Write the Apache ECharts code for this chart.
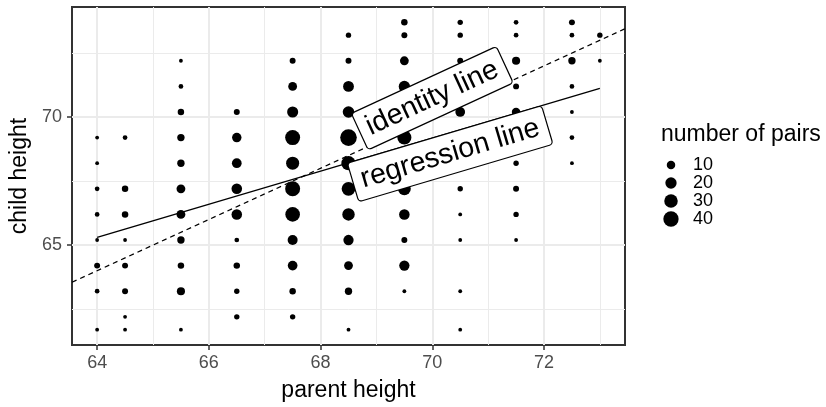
<!DOCTYPE html>
<html><head><meta charset="utf-8">
<script src="https://cdn.jsdelivr.net/npm/echarts@6/dist/echarts.min.js"></script>
<style>html,body{margin:0;padding:0;background:#fff}#c{width:826px;height:407px}</style>
</head><body><div id="c"></div>
<script>
// ---- data (Galton parent/child heights, number of pairs) ----
const parentHeights = [64, 64.5, 65.5, 66.5, 67.5, 68.5, 69.5, 70.5, 71.5, 72.5, 73];
const childHeights  = [61.7, 62.2, 63.2, 64.2, 65.2, 66.2, 67.2, 68.2, 69.2, 70.2, 71.2, 72.2, 73.2, 73.7];
// one row per parent height, columns follow childHeights
const pairCounts = [
  [1,0,2,4,1,2,2,1,1,0,0,0,0,0],
  [1,1,4,4,1,5,5,0,2,0,0,0,0,0],
  [1,0,9,5,7,11,11,7,7,5,2,1,0,0],
  [0,3,3,5,2,17,17,14,13,4,0,0,0,0],
  [0,3,5,14,15,36,38,28,38,19,11,4,0,0],
  [1,0,7,11,16,25,31,34,48,21,18,4,3,0],
  [0,0,1,16,4,17,27,20,33,25,20,11,4,5],
  [1,0,1,0,1,1,3,12,18,14,7,4,3,3],
  [0,0,0,0,1,3,4,3,5,10,4,9,2,2],
  [0,0,0,0,0,0,0,1,2,1,2,7,2,4],
  [0,0,0,0,0,0,0,0,0,0,0,1,3,0]
];
const xTicks = [64, 66, 68, 70, 72];
const xMinorGrid = [65, 67, 69, 71, 73];
const yTicks = [65, 70];
const yMinorGrid = [62.5, 67.5, 72.5];
const legendValues = [10, 20, 30, 40];
const legendTitle = 'number of pairs';
const identityLabel = {text: 'identity line', x: 70.0, y: 70.74, angle: 24.8};
const regressionLabel = {text: 'regression line', x: 70.32, y: 68.57, angle: 16.5};

// ---- derived ----
const points = [];
let minN = Infinity, maxN = 0;
let sw = 0, sx = 0, sy = 0, sxx = 0, sxy = 0;
parentHeights.forEach((p, i) => {
  childHeights.forEach((c, j) => {
    const n = pairCounts[i][j];
    if (n > 0) {
      points.push([p, c, n]);
      minN = Math.min(minN, n); maxN = Math.max(maxN, n);
      sw += n; sx += n * p; sy += n * c; sxx += n * p * p; sxy += n * p * c;
    }
  });
});
const slope = (sw * sxy - sx * sy) / (sw * sxx - sx * sx);
const intercept = (sy - slope * sx) / sw;
const pMin = Math.min(...parentHeights), pMax = Math.max(...parentHeights);
const cMin = Math.min(...childHeights), cMax = Math.max(...childHeights);
const xMin = pMin - 0.05 * (pMax - pMin), xMax = pMax + 0.05 * (pMax - pMin);
const yMin = cMin - 0.05 * (cMax - cMin), yMax = cMax + 0.05 * (cMax - cMin);

function dotSize(n) {
  const s = 1 + 5 * (Math.sqrt(n) - Math.sqrt(minN)) / (Math.sqrt(maxN) - Math.sqrt(minN));
  return 0.9 * (2.845 * s + 0.945) + 0.4;
}

const FONT = 'Liberation Sans, Arial, Helvetica, sans-serif';
const gridLines = [].concat(
  xMinorGrid.map(v => ({xAxis: v, lineStyle: {width: 1}})),
  yMinorGrid.map(v => ({yAxis: v, lineStyle: {width: 1}})),
  xTicks.map(v => ({xAxis: v, lineStyle: {width: 2}})),
  yTicks.map(v => ({yAxis: v, lineStyle: {width: 2}}))
);

function labelSeries(lab, z) {
  return {
    type: 'scatter', z: z, silent: true,
    data: [[lab.x, lab.y]],
    symbolSize: 1, itemStyle: {color: 'rgba(0,0,0,0)', opacity: 1},
    label: {
      show: true, position: 'inside', formatter: lab.text,
      rotate: lab.angle, align: 'center', verticalAlign: 'middle',
      fontFamily: FONT, fontSize: 28.5, color: '#000', opacity: 1,
      backgroundColor: '#fff', borderColor: '#000', borderWidth: 1.2,
      borderRadius: 3, padding: [5, 8]
    },
    labelLayout: {hideOverlap: false}
  };
}

const legendGraphics = [{
  type: 'text', left: 661, top: 123,
  style: {text: legendTitle, font: '23px ' + FONT, fill: '#000'}
}];
legendValues.forEach((v, i) => {
  const cy = 165 + 18 * i;
  legendGraphics.push({type: 'circle', shape: {cx: 671, cy: cy, r: dotSize(v) / 2}, style: {fill: '#000'}});
  legendGraphics.push({type: 'text', x: 693, y: cy, style: {text: String(v), font: '18px ' + FONT, fill: '#000', verticalAlign: 'middle'}});
});

const chart = echarts.init(document.getElementById('c'), null, {renderer: 'canvas'});
chart.setOption({
  animation: false,
  backgroundColor: '#fff',
  grid: {left: 68, right: 201, top: 7, bottom: 56, show: true, borderColor: '#333', borderWidth: 2, backgroundColor: 'transparent'},
  xAxis: {
    type: 'value', min: xMin, max: xMax,
    name: 'parent height', nameLocation: 'middle', nameGap: 34,
    nameTextStyle: {fontFamily: FONT, fontSize: 23, color: '#000'},
    axisLine: {show: false}, splitLine: {show: false},
    axisTick: {show: true, customValues: xTicks, length: 5, lineStyle: {color: '#333', width: 1.5}},
    axisLabel: {customValues: xTicks, margin: 9, fontFamily: FONT, fontSize: 18, color: '#4D4D4D'}
  },
  yAxis: {
    type: 'value', min: yMin, max: yMax,
    name: 'child height', nameLocation: 'middle', nameGap: 41,
    nameTextStyle: {fontFamily: FONT, fontSize: 23, color: '#000'},
    axisLine: {show: false}, splitLine: {show: false},
    axisTick: {show: true, customValues: yTicks, length: 5, lineStyle: {color: '#333', width: 1.5}},
    axisLabel: {customValues: yTicks, margin: 10, fontFamily: FONT, fontSize: 18, color: '#4D4D4D'}
  },
  graphic: legendGraphics,
  series: [
    {
      type: 'line', z: 0, silent: true, data: [],
      markLine: {z: 0, silent: true, symbol: 'none', animation: false, label: {show: false},
        lineStyle: {color: '#EBEBEB', type: 'solid'}, data: gridLines}
    },
    {
      type: 'scatter', z: 2, data: points,
      symbol: 'circle', symbolSize: d => dotSize(d[2]),
      itemStyle: {color: '#000', opacity: 1}
    },
    {
      type: 'line', z: 3, silent: true, symbol: 'none',
      data: [[xMin, xMin], [xMax, xMax]],
      lineStyle: {color: '#000', width: 1.3, type: [5, 4]}
    },
    {
      type: 'line', z: 3, silent: true, symbol: 'none',
      data: [[pMin, intercept + slope * pMin], [pMax, intercept + slope * pMax]],
      lineStyle: {color: '#000', width: 1.3}
    },
    labelSeries(identityLabel, 4),
    labelSeries(regressionLabel, 4)
  ]
});
</script></body></html>
